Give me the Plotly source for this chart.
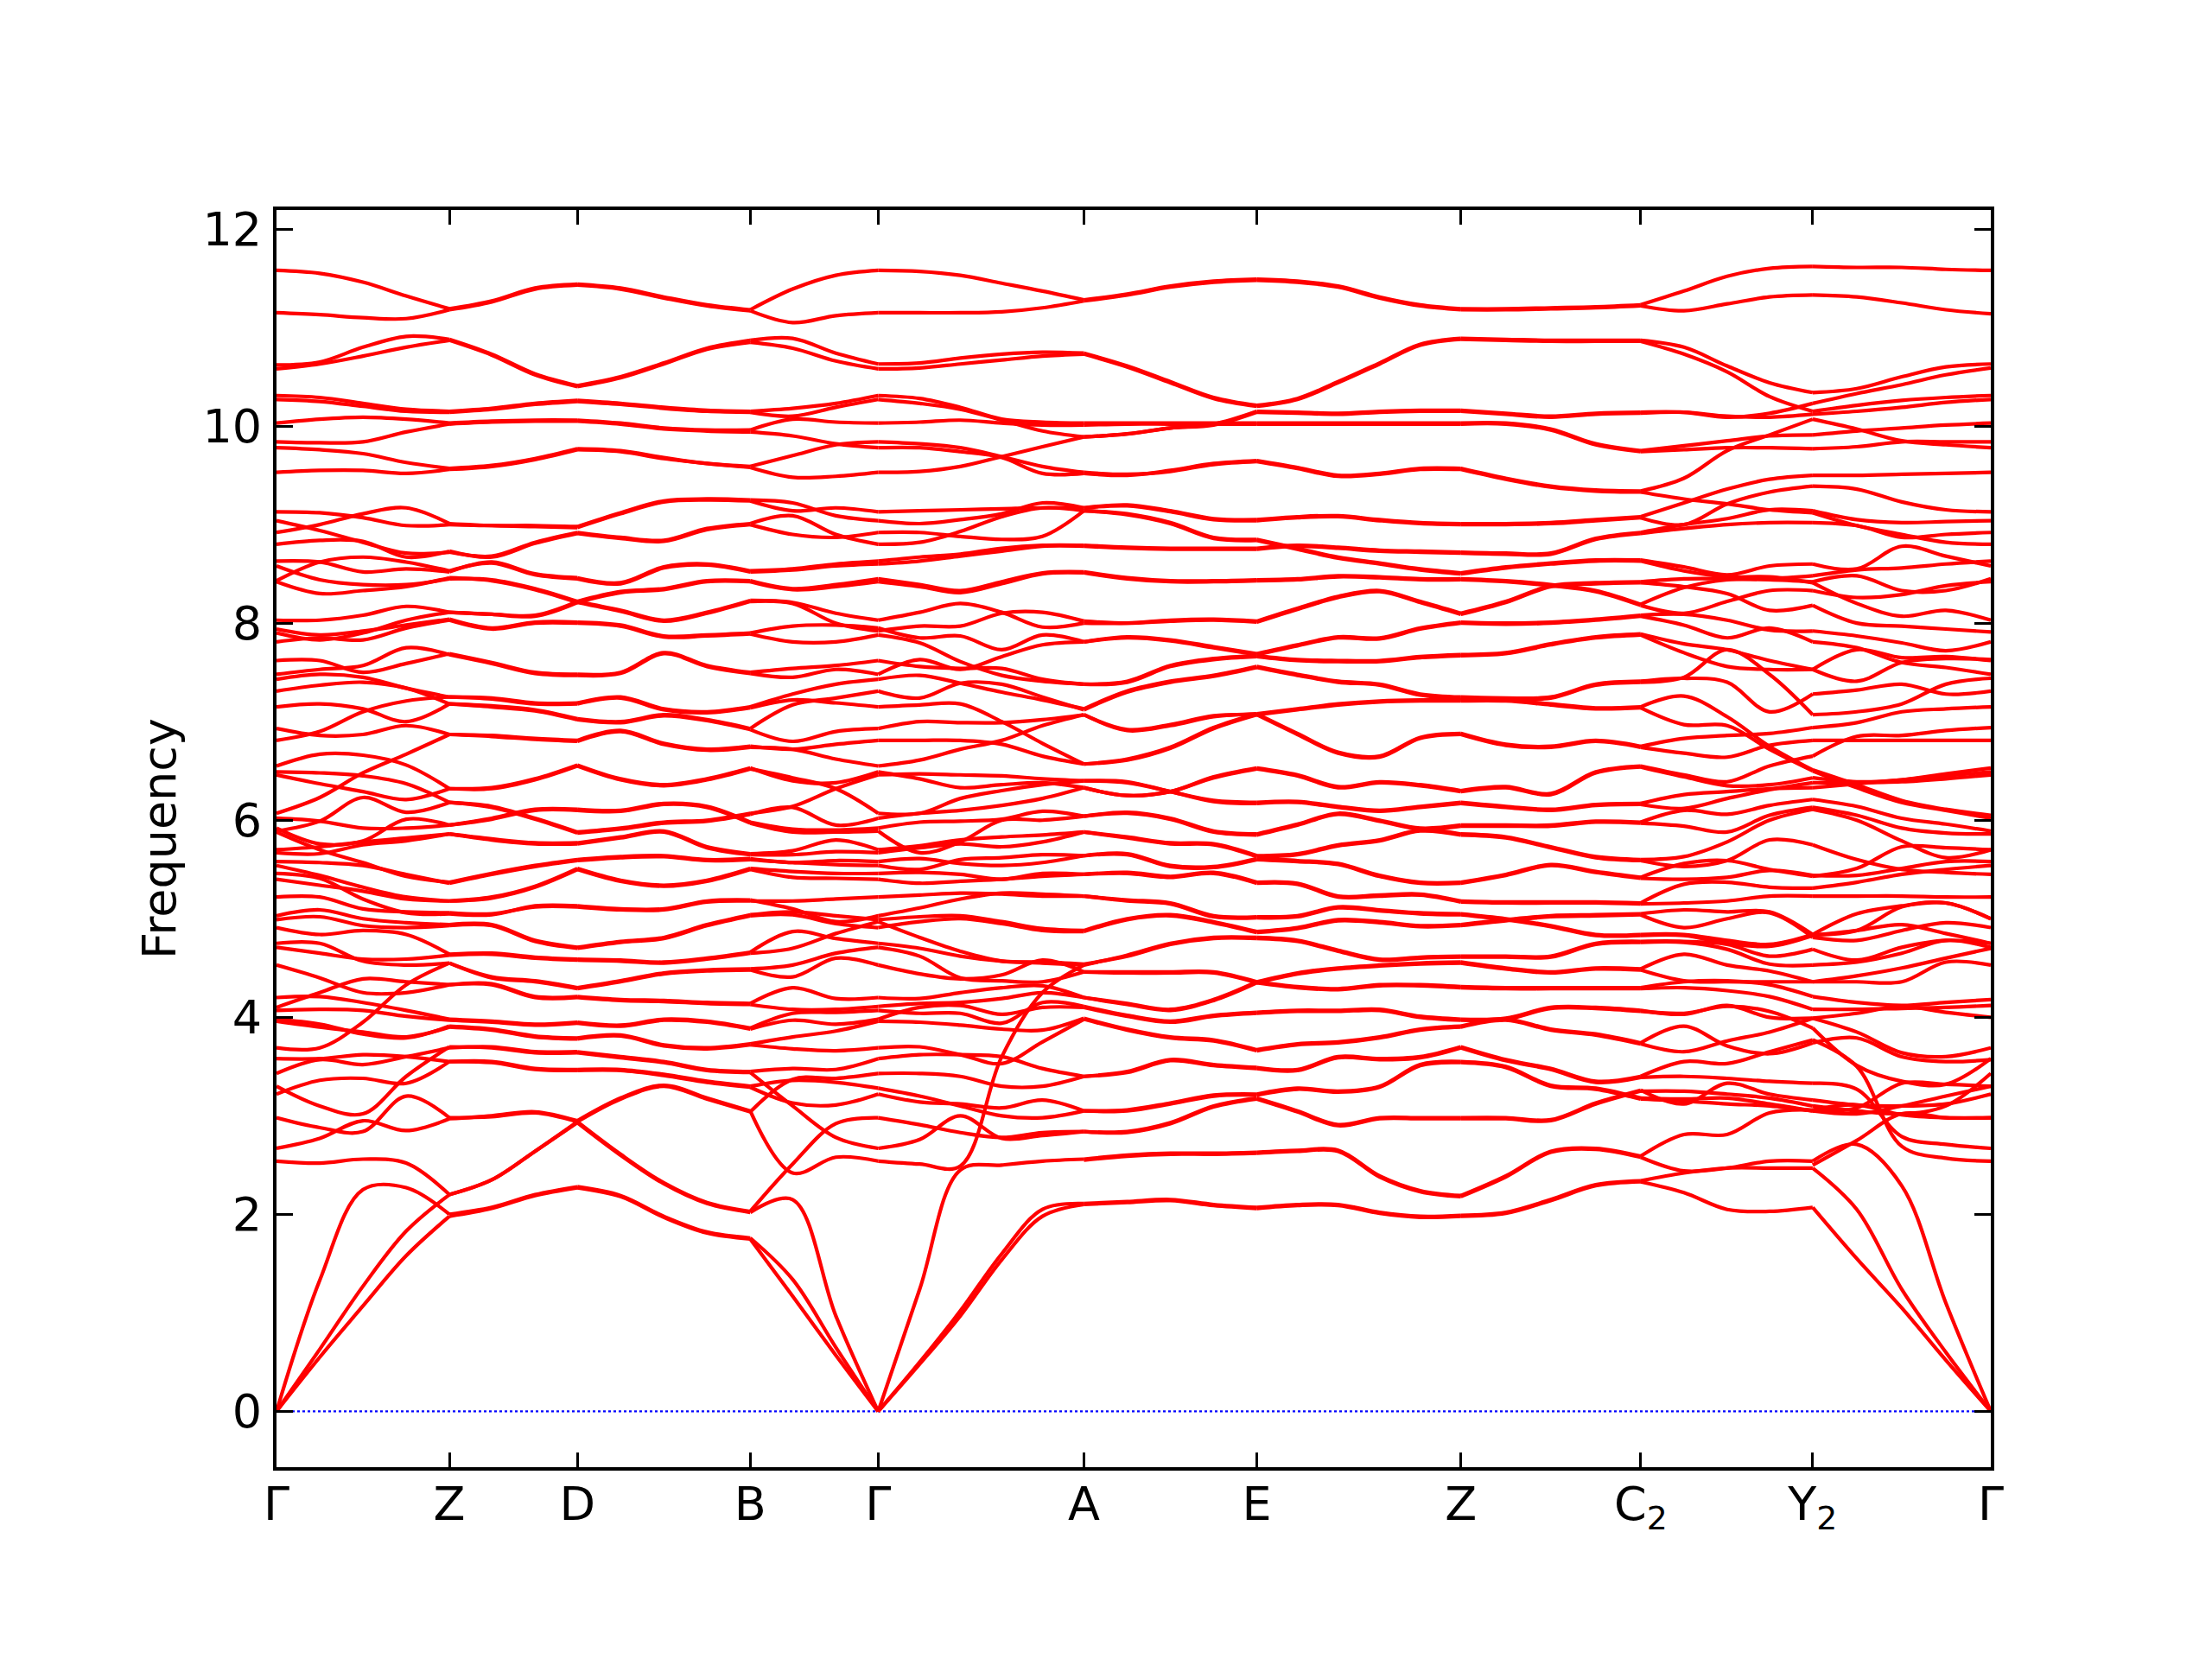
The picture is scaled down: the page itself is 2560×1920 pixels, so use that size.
import plotly.graph_objects as go

# k-path sample columns (path length) and symmetry points
kpath = [0,50,100,150,200, 249,299,348, 398,448,498,548, 597,647,696,
         744,791,839,886,934, 984,1034,1084,1134, 1181,1228,1276,1323,1370,
         1422,1474,1526,1578, 1628,1678,1727,1777, 1828,1880,1931,1983]
sym_index = [0,4,7,11,14,19,23,28,32,36,40]
sym_labels = ["Γ","Z","D","B","Γ","A","E","Z","C<sub>2</sub>","Y<sub>2</sub>","Γ"]
freq_ticks = [0,2,4,6,8,10,12]

b01=[11.58,11.55,11.46,11.32,11.19, 11.27,11.40,11.44, 11.40,11.31,11.23,11.18, 11.39,11.53,11.58, 11.57,11.53,11.45,11.37,11.28, 11.34,11.42,11.47,11.49, 11.47,11.42,11.31,11.23,11.19, 11.19,11.20,11.21,11.23, 11.37,11.52,11.60,11.62, 11.61,11.61,11.59,11.58]
b02=[11.15,11.13,11.10,11.09,11.18, 11.26,11.39,11.43, 11.39,11.30,11.22,11.17, 11.05,11.12,11.15, 11.15,11.15,11.16,11.20,11.27, 11.33,11.41,11.46,11.48, 11.46,11.41,11.30,11.22,11.18, 11.18,11.19,11.20,11.22, 11.17,11.24,11.31,11.33, 11.31,11.25,11.18,11.14]
b03=[10.62,10.65,10.80,10.91,10.88, 10.73,10.53,10.41, 10.50,10.64,10.79,10.87, 10.89,10.74,10.63, 10.64,10.69,10.73,10.75,10.74, 10.61,10.45,10.29,10.21, 10.28,10.45,10.64,10.83,10.89, 10.88,10.87,10.87,10.87, 10.80,10.61,10.44,10.34, 10.38,10.50,10.60,10.63]
b04=[10.58,10.63,10.71,10.80,10.87, 10.72,10.52,10.40, 10.49,10.63,10.78,10.85, 10.79,10.66,10.58, 10.59,10.63,10.67,10.71,10.73, 10.60,10.44,10.28,10.20, 10.27,10.44,10.63,10.82,10.88, 10.87,10.86,10.86,10.86, 10.73,10.55,10.30,10.15, 10.21,10.26,10.29,10.31]
b05=[10.31,10.29,10.23,10.17,10.15, 10.18,10.23,10.26, 10.23,10.19,10.16,10.15, 10.18,10.23,10.31, 10.28,10.19,10.07,10.04,10.03, 10.03,10.03,10.03,10.03, 10.03,10.03,10.03,10.03,10.03, 10.03,9.97,9.82,9.75, 9.80,9.85,9.90,9.91, 9.95,9.98,10.01,10.03]
b06=[10.27,10.25,10.20,10.15,10.14, 10.17,10.22,10.25, 10.22,10.18,10.15,10.14, 10.10,10.19,10.27, 10.23,10.17,10.06,9.95,9.89, 9.92,9.98,10.01,10.14, 10.13,10.12,10.14,10.15,10.15, 10.12,10.09,10.12,10.13, 10.14,10.10,10.09,10.12, 10.15,10.19,10.24,10.27]
b07=[10.03,10.07,10.09,10.07,10.03, 10.05,10.06,10.06, 10.03,9.98,9.96,9.96, 10.07,10.04,10.03, 10.04,10.06,10.03,10.01,10.01, 10.02,10.02,10.02,10.02, 10.02,10.02,10.02,10.02,10.02, 10.02,9.96,9.81,9.74, 9.76,9.78,9.78,9.77, 9.79,9.84,9.84,9.84]
b08=[9.84,9.83,9.84,9.94,10.02, 10.04,10.05,10.05, 10.02,9.97,9.95,9.94, 9.90,9.82,9.78, 9.78,9.74,9.68,9.52,9.52, 9.50,9.55,9.62,9.65, 9.58,9.50,9.52,9.57,9.57, 9.47,9.39,9.35,9.34, 9.47,9.75,9.91,10.07, 9.97,9.85,9.81,9.78]
b09=[9.78,9.76,9.72,9.63,9.57, 9.60,9.67,9.77, 9.75,9.68,9.62,9.59, 9.70,9.81,9.84, 9.82,9.78,9.69,9.59,9.53, 9.51,9.54,9.61,9.64, 9.57,9.49,9.51,9.56,9.56, 9.46,9.38,9.34,9.33, 9.26,9.21,9.15,9.12, 8.99,8.90,8.82,8.80]
b10=[9.53,9.55,9.55,9.52,9.56, 9.59,9.66,9.76, 9.74,9.67,9.62,9.58, 9.48,9.49,9.53, 9.54,9.59,9.69,9.79,9.89, 9.92,9.98,10.02,10.15, 10.14,10.13,10.15,10.16,10.16, 10.13,10.10,10.13,10.14, 10.14,10.09,10.13,10.23, 10.33,10.42,10.52,10.59]
b11=[9.13,9.12,9.07,8.99,9.00, 8.99,8.99,8.98, 9.12,9.24,9.26,9.25, 9.22,9.09,9.04, 9.01,9.05,9.11,9.22,9.17, 9.20,9.14,9.06,9.05, 9.08,9.09,9.05,9.02,9.01, 9.01,9.02,9.05,9.08, 9.22,9.36,9.46,9.50, 9.50,9.51,9.52,9.53]
b12=[8.92,9.00,9.11,9.17,9.01, 8.99,8.98,8.97, 9.11,9.23,9.25,9.24, 9.14,9.17,9.13, 9.14,9.15,9.16,9.17,9.17, 9.19,9.13,9.05,9.04, 9.07,9.08,9.04,9.01,9.00, 9.00,9.01,9.04,9.07, 9.00,9.21,9.33,9.39, 9.36,9.23,9.15,9.13]
b13=[9.04,8.94,8.82,8.71,8.72, 8.68,8.82,8.92, 8.87,8.84,8.96,9.01, 9.09,8.90,8.80, 8.82,8.93,9.08,9.17,9.14, 9.11,9.02,8.87,8.85, 8.76,8.67,8.61,8.55,8.51, 8.57,8.61,8.64,8.64, 8.57,8.49,8.58,8.60, 8.55,8.78,8.68,8.58]
b14=[8.80,8.84,8.83,8.67,8.73, 8.67,8.81,8.91, 8.86,8.83,8.95,9.00, 8.90,8.87,8.92, 8.92,8.88,8.85,8.88,9.14, 9.10,9.01,8.86,8.84, 8.75,8.66,8.60,8.54,8.50, 8.56,8.60,8.63,8.63, 8.53,8.47,8.47,8.41, 8.20,8.07,8.13,8.03]
b15=[8.63,8.62,8.52,8.55,8.52, 8.62,8.50,8.46, 8.41,8.57,8.60,8.53, 8.55,8.60,8.63, 8.67,8.70,8.76,8.79,8.79, 8.77,8.76,8.76,8.76, 8.79,8.77,8.74,8.73,8.72, 8.71,8.71,8.86,8.92, 9.00,9.06,9.15,9.14, 9.05,9.02,9.03,9.04]
b16=[8.43,8.62,8.67,8.62,8.53, 8.61,8.49,8.45, 8.40,8.56,8.59,8.52, 8.54,8.58,8.60, 8.63,8.68,8.73,8.78,8.78, 8.76,8.75,8.75,8.75, 8.78,8.76,8.73,8.72,8.71, 8.70,8.70,8.85,8.91, 8.96,9.00,9.02,9.02, 8.99,8.87,8.90,8.92]
b17=[8.58,8.44,8.39,8.39,8.45, 8.44,8.35,8.22, 8.32,8.35,8.43,8.43, 8.35,8.39,8.45, 8.39,8.33,8.42,8.51,8.52, 8.46,8.43,8.43,8.44, 8.45,8.48,8.47,8.45,8.45, 8.43,8.39,8.33,8.19, 8.36,8.44,8.45,8.48, 8.54,8.56,8.60,8.63]
b18=[8.42,8.30,8.33,8.37,8.46, 8.43,8.34,8.21, 8.31,8.34,8.42,8.42, 8.34,8.37,8.42, 8.37,8.31,8.40,8.50,8.51, 8.45,8.42,8.42,8.43, 8.44,8.47,8.46,8.44,8.44, 8.42,8.38,8.32,8.18, 8.10,8.22,8.33,8.33, 8.26,8.29,8.38,8.42]
b19=[8.03,8.03,8.08,8.17,8.11, 8.09,8.08,8.22, 8.13,8.03,8.11,8.23, 8.21,8.10,8.03, 8.11,8.20,8.11,7.96,8.00, 8.00,8.03,8.04,8.02, 8.15,8.27,8.33,8.22,8.10, 8.22,8.38,8.41,8.42, 8.45,8.45,8.44,8.42, 8.48,8.33,8.33,8.45]
b20=[7.90,7.83,7.90,8.03,8.11, 8.09,8.07,8.21, 8.12,8.02,8.10,8.22, 8.20,8.00,7.92, 7.97,7.97,8.10,8.11,8.02, 8.00,8.02,8.03,8.01, 8.14,8.26,8.32,8.21,8.09, 8.21,8.37,8.40,8.41, 8.37,8.30,8.13,8.18, 8.00,7.97,7.94,7.91]
b21=[7.94,7.88,7.92,7.98,8.04, 7.95,8.01,8.01, 7.98,7.87,7.88,7.90, 7.97,7.98,7.95, 7.85,7.87,7.73,7.88,7.81, 7.86,7.83,7.76,7.69, 7.78,7.86,7.85,7.95,8.01, 8.00,8.01,8.04,8.08, 8.09,8.03,7.93,7.92, 7.87,7.80,7.72,7.81]
b22=[7.81,7.85,7.83,7.95,8.03, 7.94,8.00,8.00, 7.97,7.86,7.87,7.89, 7.81,7.81,7.88, 7.80,7.61,7.47,7.41,7.38, 7.41,7.57,7.64,7.67, 7.63,7.62,7.62,7.66,7.68, 7.70,7.79,7.86,7.89, 7.79,7.73,7.62,7.53, 7.73,7.65,7.66,7.62]
b23=[7.62,7.62,7.50,7.59,7.69, 7.60,7.50,7.48, 7.50,7.70,7.57,7.50, 7.54,7.57,7.62, 7.56,7.54,7.54,7.43,7.38, 7.40,7.56,7.63,7.66, 7.62,7.61,7.61,7.65,7.67, 7.69,7.78,7.85,7.88, 7.70,7.56,7.53,7.53, 7.41,7.60,7.64,7.63]
b24=[7.48,7.53,7.57,7.75,7.68, 7.59,7.49,7.47, 7.49,7.69,7.56,7.49, 7.45,7.53,7.48, 7.63,7.53,7.66,7.78,7.81, 7.85,7.82,7.75,7.68, 7.77,7.85,7.84,7.94,8.00, 7.99,8.00,8.03,8.07, 7.98,7.85,7.95,7.81, 7.75,7.60,7.55,7.48]
b25=[7.43,7.48,7.45,7.34,7.25, 7.24,7.19,7.19, 7.25,7.13,7.10,7.15, 7.28,7.38,7.43, 7.47,7.39,7.30,7.22,7.13, 7.31,7.41,7.47,7.56, 7.48,7.41,7.38,7.28,7.25, 7.24,7.25,7.38,7.41, 7.44,7.40,7.10,7.28, 7.32,7.38,7.28,7.31]
b26=[7.31,7.37,7.40,7.34,7.18, 7.16,7.12,7.03, 7.00,7.07,7.02,6.93, 7.17,7.24,7.31, 7.24,7.39,7.38,7.25,7.12, 7.30,7.40,7.46,7.55, 7.47,7.40,7.37,7.27,7.24, 7.23,7.24,7.37,7.40, 7.45,7.73,7.48,7.07, 7.10,7.18,7.38,7.44]
b27=[7.15,7.18,7.13,7.00,7.18, 7.15,7.11,7.02, 6.99,7.06,7.01,6.92, 6.80,6.90,6.93, 7.00,6.99,6.99,7.02,7.07, 6.91,6.96,7.05,7.08, 7.13,7.18,7.21,7.22,7.22, 7.22,7.18,7.14,7.15, 7.26,7.05,6.75,6.51, 6.36,6.20,6.11,6.05]
b28=[6.81,6.90,7.10,7.21,7.25, 7.23,7.18,7.18, 7.24,7.12,7.09,7.14, 7.22,7.19,7.15, 7.17,7.18,7.00,6.78,6.57, 6.62,6.74,6.94,7.08, 6.88,6.69,6.65,6.84,6.88, 6.77,6.75,6.81,6.75, 6.83,6.86,6.88,6.94, 6.99,7.10,7.13,7.15]
b29=[6.93,6.86,6.87,6.96,6.87, 6.86,6.83,6.81, 6.91,6.78,6.72,6.75, 6.72,6.77,6.81, 6.81,6.81,6.77,6.65,6.57, 6.61,6.73,6.93,7.07, 6.87,6.68,6.64,6.83,6.87, 6.76,6.74,6.80,6.74, 6.68,6.64,6.76,6.81, 6.81,6.81,6.81,6.81]
b30=[6.07,6.23,6.48,6.67,6.87, 6.85,6.82,6.80, 6.90,6.77,6.71,6.74, 6.72,6.62,6.55, 6.61,6.72,6.81,6.96,7.07, 6.92,6.97,7.06,7.07, 7.12,7.17,7.20,7.21,7.21, 7.21,7.17,7.13,7.14, 6.97,6.96,6.72,6.50, 6.33,6.18,6.10,6.02]
b31=[6.55,6.67,6.66,6.56,6.32, 6.33,6.42,6.56, 6.42,6.36,6.42,6.53, 6.40,6.38,6.49, 6.42,6.33,6.36,6.38,6.33, 6.25,6.29,6.44,6.53, 6.46,6.34,6.39,6.36,6.30, 6.34,6.27,6.49,6.55, 6.46,6.39,6.55,6.65, 6.85,6.86,6.91,6.94]
b32=[6.49,6.48,6.45,6.37,6.18, 6.14,6.02,5.88, 5.92,5.98,6.00,6.07, 6.14,6.32,6.46, 6.47,6.46,6.45,6.42,6.40, 6.39,6.29,6.20,6.18, 6.19,6.14,6.10,6.14,6.18, 6.14,6.11,6.16,6.17, 6.26,6.29,6.32,6.33, 6.37,6.41,6.45,6.49]
b33=[6.46,6.37,6.29,6.21,6.32, 6.32,6.41,6.55, 6.41,6.35,6.41,6.52, 6.43,6.32,6.07, 6.07,6.22,6.30,6.36,6.40, 6.38,6.29,6.19,6.17, 6.18,6.13,6.09,6.13,6.17, 6.13,6.10,6.15,6.16, 6.12,6.22,6.31,6.38, 6.38,6.39,6.42,6.46]
b34=[5.89,5.99,6.23,6.08,6.18, 6.13,6.01,5.87, 5.91,5.97,5.99,6.06, 6.13,5.95,6.02, 6.07,6.10,6.15,6.22,6.33, 6.25,6.29,6.43,6.52, 6.45,6.33,6.38,6.35,6.29, 6.33,6.26,6.48,6.54, 6.44,6.35,6.36,6.43, 6.39,6.41,6.47,6.53]
b35=[6.02,5.99,5.92,5.92,5.95, 6.02,6.11,6.11, 6.10,6.17,6.14,5.98, 5.91,5.90,5.92, 5.98,5.99,6.01,6.09,6.04, 6.08,6.02,5.89,5.86, 5.96,6.07,6.00,5.92,5.95, 5.95,5.95,5.99,5.98, 6.10,6.06,6.15,6.21, 6.14,6.02,5.96,5.89]
b36=[5.92,5.76,5.79,6.01,5.95, 6.01,6.10,6.10, 6.09,6.16,6.13,5.97, 5.88,5.88,5.89, 5.67,5.78,6.00,6.00,6.04, 6.07,6.01,5.88,5.85, 5.95,6.06,5.99,5.91,5.94, 5.94,5.94,5.98,5.97, 5.94,5.88,6.05,6.13, 6.05,5.92,5.87,5.86]
b37=[5.70,5.73,5.78,5.82,5.86, 5.81,5.77,5.77, 5.83,5.89,5.73,5.66, 5.69,5.80,5.70, 5.74,5.80,5.83,5.85,5.88, 5.83,5.77,5.76,5.64, 5.66,5.75,5.80,5.90,5.86, 5.83,5.73,5.63,5.60, 5.63,5.78,6.00,6.11, 6.00,5.79,5.62,5.70]
b38=[5.67,5.66,5.75,5.79,5.86, 5.80,5.76,5.76, 5.82,5.88,5.72,5.65, 5.65,5.68,5.67, 5.72,5.76,5.73,5.78,5.88, 5.82,5.76,5.75,5.63, 5.65,5.74,5.79,5.89,5.85, 5.82,5.72,5.62,5.59, 5.53,5.59,5.80,5.75, 5.60,5.50,5.47,5.45]
b39=[5.88,5.70,5.57,5.43,5.37, 5.46,5.54,5.60, 5.63,5.64,5.60,5.61, 5.57,5.59,5.58, 5.61,5.56,5.54,5.57,5.64, 5.66,5.54,5.53,5.61, 5.59,5.56,5.44,5.37,5.37, 5.45,5.55,5.48,5.42, 5.56,5.59,5.50,5.43, 5.51,5.73,5.72,5.70]
b40=[5.58,5.57,5.54,5.45,5.36, 5.45,5.53,5.59, 5.62,5.63,5.59,5.60, 5.57,5.55,5.54, 5.50,5.60,5.62,5.65,5.64, 5.65,5.53,5.52,5.60, 5.58,5.55,5.43,5.36,5.36, 5.44,5.54,5.47,5.41, 5.40,5.42,5.49,5.44, 5.44,5.51,5.58,5.58]
b41=[5.54,5.44,5.32,5.22,5.18, 5.22,5.33,5.51, 5.39,5.34,5.39,5.51, 5.48,5.46,5.46, 5.47,5.45,5.40,5.46,5.45, 5.47,5.43,5.47,5.37, 5.36,5.23,5.24,5.25,5.18, 5.17,5.17,5.17,5.16, 5.35,5.37,5.32,5.31, 5.37,5.45,5.50,5.54]
b42=[5.40,5.34,5.28,5.20,5.18, 5.21,5.32,5.50, 5.38,5.33,5.38,5.50, 5.42,5.41,5.40, 5.36,5.38,5.40,5.43,5.45, 5.46,5.42,5.46,5.36, 5.35,5.22,5.23,5.24,5.17, 5.16,5.16,5.16,5.15, 5.16,5.18,5.23,5.23, 5.23,5.23,5.22,5.22]
b43=[5.46,5.41,5.20,5.06,5.05, 5.04,5.13,5.13, 5.10,5.10,5.18,5.19, 5.10,4.97,5.03, 5.11,5.20,5.26,5.25,5.23, 5.19,5.16,5.03,5.02, 5.03,5.12,5.09,5.06,5.05, 5.00,4.93,4.84,4.84, 4.84,4.78,4.74,4.84, 5.05,5.13,5.16,5.00]
b44=[5.22,5.22,5.10,5.07,5.06, 5.05,5.12,5.12, 5.09,5.09,5.17,5.18, 5.18,5.20,5.22, 5.24,5.26,5.25,5.23,5.23, 5.18,5.15,5.02,5.01, 5.02,5.11,5.08,5.05,5.04, 4.99,4.92,4.83,4.83, 4.83,4.75,4.72,4.83, 4.88,4.94,4.85,4.75]
b45=[5.03,5.09,5.00,4.96,4.94, 4.94,4.78,4.71, 4.77,4.81,4.94,5.04, 5.07,5.03,4.99, 5.02,5.03,4.97,4.90,4.88, 5.00,5.04,4.97,4.87, 4.91,4.99,4.97,4.93,4.94, 4.99,5.03,5.04,5.05, 5.09,5.07,5.07,4.84, 4.88,5.12,5.16,5.00]
b46=[4.99,5.02,4.93,4.91,4.93, 4.93,4.77,4.70, 4.76,4.80,4.93,5.03, 5.04,4.95,4.91, 4.97,5.00,4.95,4.88,4.87, 4.99,5.03,4.96,4.86, 4.90,4.98,4.96,4.92,4.93, 4.98,5.02,5.03,5.04, 4.91,5.00,5.06,4.81, 4.78,4.88,4.96,4.91]
b47=[4.91,4.84,4.88,4.84,4.64, 4.65,4.61,4.59, 4.58,4.56,4.60,4.66, 4.87,4.80,4.75, 4.70,4.62,4.57,4.55,4.53, 4.63,4.75,4.81,4.81, 4.78,4.68,4.59,4.61,4.62, 4.62,4.62,4.75,4.77, 4.77,4.74,4.62,4.69, 4.58,4.71,4.78,4.75]
b48=[4.71,4.65,4.59,4.59,4.63, 4.64,4.60,4.58, 4.57,4.55,4.59,4.65, 4.70,4.85,4.97, 4.81,4.67,4.57,4.56,4.54, 4.62,4.74,4.80,4.80, 4.77,4.67,4.58,4.60,4.61, 4.61,4.61,4.74,4.76, 4.76,4.69,4.54,4.53, 4.56,4.65,4.78,4.71]
b49=[4.75,4.75,4.57,4.53,4.55, 4.41,4.37,4.30, 4.37,4.45,4.48,4.49, 4.53,4.65,4.71, 4.62,4.40,4.37,4.36,4.46, 4.46,4.46,4.46,4.36, 4.45,4.50,4.53,4.55,4.56, 4.50,4.46,4.50,4.49, 4.64,4.53,4.47,4.36, 4.42,4.50,4.60,4.70]
b50=[3.69,3.69,3.95,4.33,4.55, 4.40,4.36,4.29, 4.36,4.44,4.47,4.48, 4.41,4.60,4.53, 4.44,4.39,4.43,4.58,4.46, 4.45,4.45,4.45,4.35, 4.44,4.49,4.52,4.54,4.55, 4.49,4.45,4.49,4.48, 4.37,4.36,4.36,4.36, 4.36,4.36,4.56,4.53]
b51=[4.53,4.40,4.25,4.25,4.33, 4.34,4.21,4.21, 4.18,4.17,4.15,4.14, 4.30,4.19,4.20, 4.19,4.25,4.30,4.32,4.20, 4.14,4.08,4.18,4.36, 4.31,4.29,4.33,4.33,4.31, 4.30,4.30,4.30,4.30, 4.36,4.37,4.33,4.21, 4.15,4.12,4.15,4.18]
b52=[4.10,4.25,4.39,4.36,4.33, 4.33,4.20,4.20, 4.17,4.16,4.14,4.13, 4.08,4.08,4.11, 4.14,4.15,4.19,4.25,4.20, 4.13,4.07,4.17,4.35, 4.30,4.28,4.32,4.32,4.30, 4.29,4.29,4.29,4.29, 4.30,4.27,4.21,4.08, 4.08,4.09,4.10,4.12]
b53=[4.20,4.21,4.15,4.07,3.98, 3.96,3.93,3.95, 3.92,3.98,3.96,3.89, 4.04,4.05,4.07, 4.04,4.04,3.94,4.15,4.11, 4.02,3.96,4.02,4.05, 4.07,4.07,4.08,4.01,3.98, 3.99,4.10,4.10,4.07, 4.03,4.12,4.00,3.99, 4.04,4.11,4.05,4.00]
b54=[4.07,4.08,4.07,4.01,3.97, 3.95,3.92,3.94, 3.91,3.97,3.95,3.88, 3.97,3.93,3.98, 4.10,4.12,4.03,4.10,4.10, 4.01,3.95,4.01,4.04, 4.06,4.06,4.07,4.00,3.97, 3.98,4.09,4.09,4.06, 4.04,4.11,4.06,3.89, 3.51,3.35,3.32,3.58]
b55=[3.98,3.93,3.83,3.79,3.91, 3.88,3.81,3.79, 3.82,3.72,3.69,3.73, 3.80,3.86,3.96, 3.95,3.92,3.88,3.87,3.99, 3.88,3.80,3.77,3.67, 3.73,3.75,3.80,3.88,3.91, 3.98,3.88,3.83,3.74, 3.91,3.71,3.63,3.74, 3.79,3.60,3.55,3.57]
b56=[3.96,3.90,3.85,3.80,3.90, 3.87,3.80,3.78, 3.81,3.71,3.68,3.72, 3.68,3.66,3.69, 3.70,3.62,3.53,3.75,3.98, 3.87,3.79,3.76,3.66, 3.72,3.74,3.79,3.87,3.90, 3.97,3.87,3.82,3.73, 3.65,3.76,3.85,3.99, 3.85,3.64,3.60,3.69]
b57=[3.43,3.57,3.52,3.60,3.69, 3.70,3.65,3.65, 3.60,3.55,3.47,3.45, 3.48,3.47,3.58, 3.62,3.62,3.60,3.48,3.40, 3.45,3.57,3.52,3.49, 3.47,3.60,3.58,3.60,3.70, 3.57,3.48,3.35,3.40, 3.55,3.53,3.65,3.77, 3.50,2.69,2.57,2.54]
b58=[3.30,3.10,3.02,3.40,3.70, 3.69,3.64,3.64, 3.59,3.54,3.46,3.44, 3.10,2.78,2.67, 2.76,3.00,2.77,2.80,2.84, 2.84,2.93,3.10,3.18, 3.05,2.91,2.98,2.98,2.98, 2.98,2.96,3.13,3.26, 3.12,3.33,3.22,3.16, 3.11,3.10,3.12,3.22]
b59=[2.98,2.88,2.84,3.20,2.98, 2.99,3.03,2.94, 3.17,3.30,3.17,3.04, 3.37,3.38,3.43, 3.43,3.40,3.30,3.30,3.40, 3.44,3.56,3.51,3.48, 3.46,3.59,3.57,3.59,3.69, 3.56,3.47,3.34,3.39, 3.40,3.38,3.35,3.33, 3.27,2.79,2.71,2.67]
b60=[3.58,3.58,3.62,3.60,3.55, 3.55,3.48,3.47, 3.47,3.42,3.35,3.30, 3.36,3.34,3.28, 3.20,3.10,3.00,2.98,3.05, 3.06,3.13,3.21,3.22, 3.28,3.25,3.30,3.52,3.55, 3.50,3.31,3.28,3.18, 3.17,3.18,3.12,3.05, 3.08,3.33,3.32,3.30]
b61=[3.22,3.36,3.38,3.33,3.55, 3.54,3.47,3.46, 3.46,3.41,3.34,3.29, 3.13,3.11,3.22, 3.14,3.12,3.08,3.16,3.05, 3.05,3.12,3.20,3.21, 3.27,3.24,3.29,3.51,3.54, 3.49,3.30,3.27,3.17, 3.15,3.12,3.10,3.05, 3.02,3.10,3.20,3.30]
b62=[2.54,2.52,2.56,2.52,2.20, 2.35,2.64,2.94, 2.61,2.32,2.12,2.03, 2.51,2.92,2.98, 2.91,2.83,2.78,2.83,2.84, 2.83,2.92,3.09,3.17, 3.04,2.90,2.97,2.97,2.97, 2.97,2.95,3.12,3.25, 3.25,3.22,3.18,3.10, 3.05,3.02,3.10,3.43]
b63=[2.67,2.77,2.95,2.85,2.97, 3.00,3.04,2.95, 3.18,3.31,3.18,3.05, 2.42,2.58,2.54, 2.51,2.49,3.60,4.25,4.53]
b64=[0,1.33,2.25,2.27,2.00, 2.07,2.20,2.28, 2.19,1.98,1.82,1.76, 1.34,0.65,0, 0.50,1.02,1.60,2.05,2.11, 2.13,2.15,2.10,2.07, 2.10,2.10,2.02,1.98,1.99, 2.02,2.15,2.30,2.34, 2.42,2.47,2.47,2.47, 2.05,1.24,0.60,0]
b65=[0,0.63,1.27,1.83,2.20, 2.35,2.64,2.93, 2.60,2.31,2.11,2.02, 2.15,0.97,0, 1.24,2.45,2.50,2.54,2.56, 2.60,2.62,2.62,2.63, 2.65,2.65,2.39,2.24,2.19, 2.39,2.64,2.67,2.59, 2.81,2.81,3.03,3.06, 3.11,3.01,2.98,2.98]
b66=[0,0.55,1.07,1.58,1.98, 2.06,2.19,2.27, 2.18,1.97,1.81,1.75, 1.17,0.57,0, 0.48,0.97,1.54,1.98,2.10, 2.12,2.14,2.09,2.06, 2.09,2.09,2.01,1.97,1.98, 2.01,2.14,2.29,2.33, 2.22,2.05,2.03,2.07, 1.55,1.05,0.52,0]
b67=[None]*19+[2.55, 2.59,2.61,2.61,2.62, 2.64,2.64,2.38,2.23,2.18, 2.38,2.63,2.66,2.58, 2.44,2.47,2.54,2.54, 2.71,2.29,1.10,0]
b68=[None]*36+[2.50, 2.75,3.02,2.98,2.98]

bands=[b01,b02,b03,b04,b05,b06,b07,b08,b09,b10,b11,b12,b13,b14,b15,b16,b17,
       b18,b19,b20,b21,b22,b23,b24,b25,b26,b27,b28,b29,b30,b31,b32,b33,b34,
       b35,b36,b37,b38,b39,b40,b41,b42,b43,b44,b45,b46,b47,b48,b49,b50,b51,
       b52,b53,b54,b55,b56,b57,b58,b59,b60,b61,b62,b63,b64,b65,b66,b67,b68]

fig = go.Figure()
sym_x = [kpath[i] for i in sym_index]

# zero-frequency reference line
fig.add_trace(go.Scatter(x=[kpath[0],kpath[-1]], y=[0,0], mode="lines",
    line=dict(color="#0000ff", width=2.2, dash="dot"), hoverinfo="skip", showlegend=False))

for band in bands:
    band = (list(band)+[None]*len(kpath))[:len(kpath)]
    xs, ys = [], []
    # each symmetry segment is its own spline so kinks stay sharp at the symmetry points
    for a, b in zip(sym_index[:-1], sym_index[1:]):
        xs += kpath[a:b+1]+[None]
        ys += band[a:b+1]+[None]
    fig.add_trace(go.Scatter(x=xs, y=ys, mode="lines", connectgaps=False,
        line=dict(color="#ff0000", width=4.2, shape="spline", smoothing=1.0),
        hoverinfo="skip", showlegend=False))

font = dict(family="DejaVu Sans", size=54, color="black")
fig.update_layout(
    width=2560, height=1920, autosize=False,
    margin=dict(l=320, r=256, t=243, b=222, pad=0),
    paper_bgcolor="white", plot_bgcolor="white", showlegend=False,
    font=font,
    xaxis=dict(range=[kpath[0],kpath[-1]], tickmode="array", tickvals=sym_x, ticktext=sym_labels,
               ticks="inside", ticklen=17, tickwidth=3, tickcolor="black", mirror="allticks",
               showline=True, linecolor="black", linewidth=4, showgrid=False, zeroline=False,
               tickfont=font, ticklabelstandoff=-8),
    yaxis=dict(range=[-0.566,12.193], tickmode="array", tickvals=freq_ticks,
               ticks="inside", ticklen=19, tickwidth=3, tickcolor="black", mirror="allticks",
               showline=True, linecolor="black", linewidth=4, showgrid=False, zeroline=False,
               tickfont=font, ticklabelstandoff=2,
               title=dict(text="Frequency", font=font, standoff=15)),
)
fig.write_html("out.html", post_script="document.body.style.margin='0';",
               config={"displayModeBar": False})
